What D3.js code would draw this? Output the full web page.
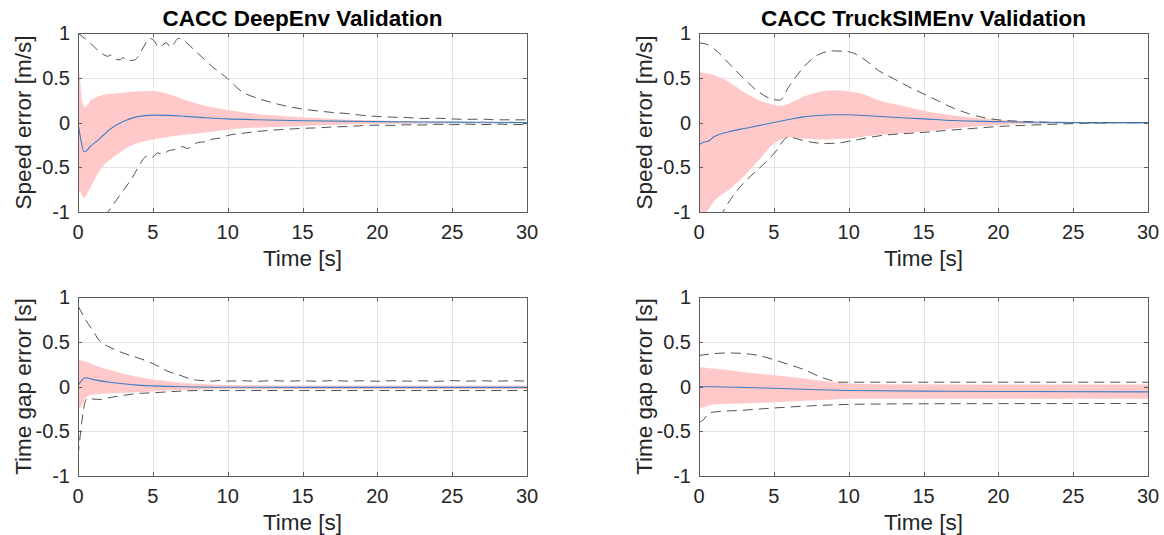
<!DOCTYPE html>
<html>
<head>
<meta charset="utf-8">
<script src="https://cdn.jsdelivr.net/npm/d3@7"></script>
<style>
  body { margin: 0; background: #fff; }
  svg { display: block; font-family: "Liberation Sans", Arial, Helvetica, sans-serif; }
  .grid line { stroke: #e3e3e3; stroke-width: 1; }
  .tick-label { font-size: 20px; fill: #262626; }
  .axis-label { font-size: 22.5px; fill: #262626; }
  .title { font-size: 22.5px; font-weight: bold; fill: #000; }
</style>
</head>
<body>
<div id="chart"></div>
<script>
// tick labels
const xTicks = [0, 5, 10, 15, 20, 25, 30];
const yTicks = [1, 0.5, 0, -0.5, -1];
const yTickLabels = ['1', '0.5', '0', '-0.5', '-1'];

// ---- CACC DeepEnv, speed error ----  band rows: [t, lower, upper]
const deepSpeedBand = [
  [0, -0.75, 0.80], [0.15, -0.78, 0.45], [0.3, -0.82, 0.22], [0.45, -0.84, 0.17], [0.6, -0.80, 0.19],
  [0.85, -0.72, 0.25], [1.2, -0.61, 0.28], [1.6, -0.50, 0.305], [2.1, -0.42, 0.32], [2.75, -0.34, 0.33],
  [3.4, -0.27, 0.34], [3.9, -0.235, 0.345], [4.8, -0.195, 0.353], [5.5, -0.175, 0.34], [6.1, -0.16, 0.316],
  [7.2, -0.135, 0.25], [8.4, -0.115, 0.19], [10, -0.08, 0.14], [11.7, -0.06, 0.10], [13, -0.05, 0.08],
  [15, -0.04, 0.058], [17, -0.028, 0.04], [20, -0.015, 0.022], [23, -0.008, 0.012], [26, -0.005, 0.008], [30, -0.004, 0.005]
];
const deepSpeedMean = [
  [0, 0], [0.2, -0.2], [0.4, -0.327], [0.55, -0.32], [0.8, -0.27], [1.2, -0.216], [1.7, -0.14], [2.1, -0.08],
  [2.75, -0.01], [3.3, 0.03], [3.9, 0.063], [5, 0.082], [6.1, 0.08], [7.2, 0.068], [8.4, 0.055], [10, 0.04],
  [12, 0.03], [15, 0.02], [20, 0.01], [25, 0.004], [30, 0.0]
];
const deepSpeedUpper = [
  [0, 1.0], [0.8, 0.89], [1.6, 0.77], [2.0, 0.74], [2.2, 0.755], [2.5, 0.71], [2.8, 0.70], [3.0, 0.725],
  [3.3, 0.69], [3.8, 0.70], [4.3, 0.82], [4.8, 0.94], [5.1, 0.91], [5.4, 0.84], [5.9, 0.89], [6.2, 0.84],
  [6.7, 0.94], [7.0, 0.92], [7.9, 0.79], [9, 0.62], [10, 0.49], [11, 0.34], [11.5, 0.30], [12, 0.27],
  [13, 0.22], [14, 0.18], [15, 0.15], [16, 0.13], [17, 0.112], [18, 0.10], [19, 0.08], [20, 0.068],
  [21, 0.06], [22, 0.055], [23, 0.045], [24, 0.048], [25, 0.04], [26, 0.035], [27, 0.038], [28, 0.03], [30, 0.03]
];
const deepSpeedLower = [
  [0, -1.5], [2.0, -1.0], [3.5, -0.65], [4.7, -0.37], [5.0, -0.385], [5.3, -0.34], [5.7, -0.355], [6.0, -0.32],
  [6.5, -0.30], [7.0, -0.27], [7.3, -0.29], [8.0, -0.225], [8.5, -0.215], [9.0, -0.185], [9.5, -0.175],
  [10, -0.145], [11, -0.12], [12, -0.10], [13, -0.085], [14, -0.075], [15, -0.065], [16, -0.06], [17, -0.05],
  [18, -0.045], [19, -0.035], [20, -0.03], [21, -0.032], [22, -0.025], [23, -0.028], [24, -0.02], [25, -0.024],
  [26, -0.018], [27, -0.024], [28, -0.018], [29, -0.024], [30, -0.02]
];

// ---- CACC TruckSIMEnv, speed error ----
const truckSpeedBand = [
  [0, -1.05, 0.565], [0.5, -1.0, 0.55], [1, -0.88, 0.53], [2, -0.75, 0.45], [3, -0.60, 0.34], [4, -0.42, 0.25],
  [5, -0.235, 0.195], [5.5, -0.19, 0.185], [6, -0.165, 0.21], [7, -0.18, 0.29], [8, -0.19, 0.34],
  [9, -0.186, 0.36], [10, -0.18, 0.35], [11, -0.16, 0.316], [12, -0.14, 0.25], [13.5, -0.12, 0.19],
  [15, -0.10, 0.13], [16.5, -0.075, 0.09], [18, -0.05, 0.06], [20, -0.03, 0.03], [22, -0.012, 0.012],
  [25, -0.005, 0.005], [30, -0.003, 0.003]
];
const truckSpeedMean = [
  [0, -0.25], [0.3, -0.22], [0.6, -0.21], [1, -0.16], [2, -0.104], [3, -0.067], [4, -0.035], [5, 0.0],
  [6, 0.033], [7, 0.063], [8, 0.078], [9, 0.086], [10, 0.086], [11, 0.078], [13, 0.058], [15, 0.04],
  [17, 0.022], [20, 0.01], [22, 0.003], [25, 0.0], [27, -0.005], [28, 0.0], [29, -0.004], [30, 0.0]
];
const truckSpeedUpper = [
  [0, 0.89], [0.5, 0.875], [1, 0.825], [2, 0.66], [3, 0.49], [4, 0.34], [5, 0.256], [5.4, 0.25],
  [6, 0.40], [7, 0.62], [8, 0.76], [9, 0.80], [10, 0.79], [11, 0.71], [12, 0.58], [13, 0.49],
  [14, 0.40], [15, 0.32], [16, 0.24], [17, 0.16], [18, 0.10], [19, 0.055], [20, 0.03], [22, 0.01],
  [25, 0.0], [30, 0.0]
];
const truckSpeedLower = [
  [0, -1.55], [1.8, -0.94], [5, -0.35], [6.0, -0.16], [6.5, -0.18], [7.5, -0.22], [8.5, -0.235],
  [9.5, -0.225], [10, -0.21], [12, -0.15], [15, -0.11], [18, -0.07], [20, -0.045], [22, -0.03],
  [25, -0.012], [27, -0.005], [30, 0.0]
];

// ---- CACC DeepEnv, time gap error ----
const deepGapBand = [
  [0, -0.26, 0.30], [0.3, -0.20, 0.29], [0.5, -0.126, 0.28], [1, -0.09, 0.245], [2, -0.078, 0.19],
  [3, -0.07, 0.145], [4, -0.063, 0.108], [5, -0.052, 0.078], [6, -0.046, 0.06], [7, -0.04, 0.04],
  [8, -0.036, 0.03], [10, -0.032, 0.018], [15, -0.03, 0.012], [20, -0.03, 0.011], [30, -0.03, 0.011]
];
const deepGapMean = [
  [0, 0.01], [0.5, 0.097], [1, 0.08], [2, 0.05], [3, 0.03], [4, 0.015], [5, 0.007], [7, -0.003],
  [10, -0.008], [20, -0.01], [30, -0.01]
];
const deepGapUpper = [
  [0, 0.90], [0.5, 0.75], [1, 0.62], [1.5, 0.50], [2, 0.45], [3, 0.375], [4, 0.32], [5, 0.257],
  [6, 0.17], [7, 0.115], [7.5, 0.085], [8, 0.07], [8.5, 0.065], [9, 0.06], [9.5, 0.068], [10, 0.06],
  [11, 0.064], [12, 0.058], [13, 0.066], [14, 0.06], [15, 0.064], [16, 0.058], [17, 0.066], [18, 0.06],
  [19, 0.064], [20, 0.058], [21, 0.065], [22, 0.06], [23, 0.064], [24, 0.058], [25, 0.066], [26, 0.06],
  [27, 0.064], [28, 0.06], [29, 0.064], [30, 0.06]
];
const deepGapLower = [
  [0, -0.78], [0.1, -0.62], [0.25, -0.40], [0.5, -0.16], [0.7, -0.127], [1, -0.14], [1.5, -0.145], [2, -0.127],
  [3, -0.10], [4, -0.078], [5, -0.07], [6, -0.06], [8, -0.045], [10, -0.045], [15, -0.045], [20, -0.045],
  [25, -0.045], [30, -0.045]
];

// ---- CACC TruckSIMEnv, time gap error ----
const truckGapBand = [
  [0, -0.238, 0.215], [0.5, -0.227, 0.21], [0.7, -0.21, 0.205], [1, -0.20, 0.20], [3, -0.19, 0.16],
  [5, -0.175, 0.126], [7, -0.16, 0.09], [9, -0.145, 0.048], [10, -0.138, 0.033], [12, -0.138, 0.026],
  [20, -0.138, 0.022], [30, -0.138, 0.022]
];
const truckGapMean = [
  [0, 0], [2.5, -0.008], [5, -0.02], [7.5, -0.033], [10, -0.045], [15, -0.052], [20, -0.056], [30, -0.06]
];
const truckGapUpper = [
  [0, 0.346], [1, 0.368], [2, 0.375], [3, 0.368], [4, 0.346], [5, 0.30], [6, 0.245], [7, 0.19],
  [8, 0.115], [9, 0.06], [9.3, 0.048], [15, 0.048], [30, 0.048]
];
const truckGapLower = [
  [0, -0.405], [0.3, -0.37], [0.7, -0.294], [1, -0.286], [3, -0.264], [5, -0.24], [7, -0.22],
  [9, -0.205], [10, -0.20], [15, -0.193], [30, -0.19]
];

const panels = [
  {left: 78, top: 33, title: 'CACC DeepEnv Validation', ylabel: 'Speed error [m/s]',
    band: deepSpeedBand, mean: deepSpeedMean, upper: deepSpeedUpper, lower: deepSpeedLower},
  {left: 699, top: 33, title: 'CACC TruckSIMEnv Validation', ylabel: 'Speed error [m/s]',
    band: truckSpeedBand, mean: truckSpeedMean, upper: truckSpeedUpper, lower: truckSpeedLower},
  {left: 78, top: 297, title: null, ylabel: 'Time gap error [s]',
    band: deepGapBand, mean: deepGapMean, upper: deepGapUpper, lower: deepGapLower},
  {left: 699, top: 297, title: null, ylabel: 'Time gap error [s]',
    band: truckGapBand, mean: truckGapMean, upper: truckGapUpper, lower: truckGapLower}
];

const W = 1164, H = 535;
const w = 449, h = 179;

const svg = d3.select('#chart').append('svg')
  .attr('width', W)
  .attr('height', H);

panels.forEach((p, i) => {
  const x = d3.scaleLinear().domain([0, 30]).range([0, w]);
  const y = d3.scaleLinear().domain([-1, 1]).range([h, 0]);

  const g = svg.append('g').attr('transform', `translate(${p.left},${p.top})`);

  g.append('defs').append('clipPath').attr('id', 'clip' + i)
    .append('rect').attr('width', w).attr('height', h);

  // grid
  const grid = g.append('g').attr('class', 'grid');
  grid.selectAll('.gx').data(xTicks.slice(1, -1)).join('line')
    .attr('x1', d => Math.round(x(d)) + 0.5).attr('x2', d => Math.round(x(d)) + 0.5)
    .attr('y1', 0).attr('y2', h);
  grid.selectAll('.gy').data(yTicks.slice(1, -1)).join('line')
    .attr('y1', d => Math.round(y(d)) + 0.5).attr('y2', d => Math.round(y(d)) + 0.5)
    .attr('x1', 0).attr('x2', w);

  const plot = g.append('g').attr('clip-path', `url(#clip${i})`);

  // shaded band
  const area = d3.area()
    .x(d => x(d[0])).y0(d => y(d[1])).y1(d => y(d[2]))
    .curve(d3.curveMonotoneX);
  plot.append('path').datum(p.band)
    .attr('d', area)
    .attr('fill', '#ffc9c9')
    .attr('stroke', 'none');

  const line = d3.line().x(d => x(d[0])).y(d => y(d[1])).curve(d3.curveMonotoneX);

  // dashed bounds
  [p.upper, p.lower].forEach(s => {
    plot.append('path').datum(s)
      .attr('d', line)
      .attr('fill', 'none')
      .attr('stroke', '#3f3f3f')
      .attr('stroke-width', 0.9)
      .attr('stroke-dasharray', '10,6');
  });

  // mean line
  plot.append('path').datum(p.mean)
    .attr('d', line)
    .attr('fill', 'none')
    .attr('stroke', '#3c7dc4')
    .attr('stroke-width', 1.1);

  // box
  g.append('rect')
    .attr('x', 0.5).attr('y', 0.5).attr('width', w).attr('height', h)
    .attr('fill', 'none').attr('stroke', '#5c5c5c').attr('stroke-width', 1);

  // ticks (inward, mirrored)
  const tk = g.append('g').attr('stroke', '#5c5c5c').attr('stroke-width', 1);
  xTicks.forEach(t => {
    const xx = Math.round(x(t)) + 0.5;
    tk.append('line').attr('x1', xx).attr('x2', xx).attr('y1', h).attr('y2', h - 4);
    tk.append('line').attr('x1', xx).attr('x2', xx).attr('y1', 0).attr('y2', 4);
  });
  yTicks.forEach(t => {
    const yy = Math.round(y(t)) + 0.5;
    tk.append('line').attr('x1', 0).attr('x2', 4).attr('y1', yy).attr('y2', yy);
    tk.append('line').attr('x1', w).attr('x2', w - 4).attr('y1', yy).attr('y2', yy);
  });

  // tick labels
  g.selectAll('.xl').data(xTicks).join('text')
    .attr('class', 'tick-label')
    .attr('x', d => x(d)).attr('y', h + 27)
    .attr('text-anchor', 'middle')
    .text(d => d);
  g.selectAll('.yl').data(yTicks).join('text')
    .attr('class', 'tick-label')
    .attr('x', -8).attr('y', d => y(d) + 7)
    .attr('text-anchor', 'end')
    .text((d, j) => yTickLabels[j]);

  // axis labels
  g.append('text').attr('class', 'axis-label')
    .attr('x', w / 2).attr('y', h + 54)
    .attr('text-anchor', 'middle')
    .text('Time [s]');
  g.append('text').attr('class', 'axis-label')
    .attr('transform', `translate(${-47},${h / 2}) rotate(-90)`)
    .attr('text-anchor', 'middle')
    .text(p.ylabel);

  if (p.title) {
    g.append('text').attr('class', 'title')
      .attr('x', w / 2).attr('y', -7)
      .attr('text-anchor', 'middle')
      .text(p.title);
  }
});
</script>
</body>
</html>
